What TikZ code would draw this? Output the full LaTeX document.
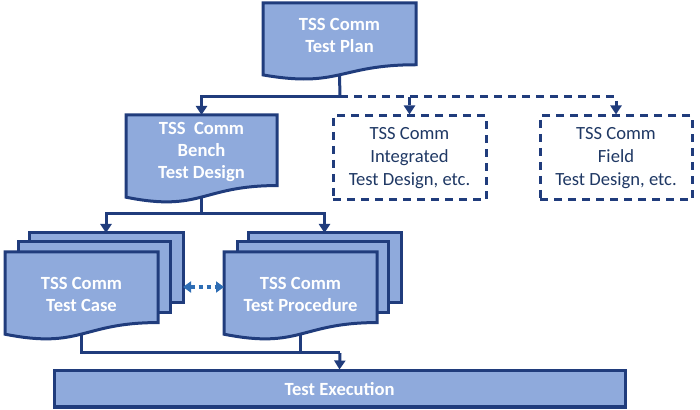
\documentclass[tikz,border=0pt]{standalone}
\usepackage{fontspec}
\setmainfont{Carlito}
\usepackage{xcolor}
\usepackage{tikz}
\usetikzlibrary{arrows.meta, positioning, calc}

\definecolor{sheetfill}{HTML}{8FAADC}
\definecolor{sheetline}{HTML}{203C7C}
\definecolor{navytext}{HTML}{1F3864}
\definecolor{linkblue}{HTML}{2E6DB4}

% document sheet with wavy bottom: name, x1, y1, x2, height
\newcommand{\docsheet}[5]{%
  \draw[sheet] (#2,#3) -- (#4,#3) -- (#4,{#3+0.802*#5})
    .. controls ({(#2+#4)/2},{#3+0.802*#5}) and ({(#2+#4)/2},{#3+1.107*#5}) .. (#2,{#3+0.934*#5}) -- cycle;
  \coordinate (#1-n) at ({(#2+#4)/2},#3);
  \coordinate (#1-s) at ({(#2+#4)/2},{#3+0.933*#5});
  \coordinate (#1-c) at ({(#2+#4)/2},{#3+0.42*#5});
}

\begin{document}
\begin{tikzpicture}[x=0.5pt, y=-0.5pt, thick,
    sheet/.style={draw=sheetline, fill=sheetfill, line width=1.5pt},
    doctext/.style={text=white, font=\fontsize{9.3}{11}\selectfont\bfseries, align=center},
    dashbox/.style={draw=sheetline, dash pattern=on 4pt off 3pt, line width=1.5pt, minimum width=76.5pt, minimum height=42pt, align=center, text=navytext, font=\fontsize{9.3}{11.5}\selectfont},
    link/.style={draw=sheetline, line width=1.5pt, -{Triangle[length=4.5pt, width=5.5pt]}},
    dashlink/.style={link, dash pattern=on 4pt off 3pt}]
    \useasboundingbox (0,0) rectangle (700,410);

    % Plan and bench design
    \docsheet{plan}{263}{3}{416}{77}
    \node (plan) [doctext] at (plan-c) {TSS Comm\\Test Plan};
    \docsheet{bench}{126}{115}{277}{88}
    \node (bench) [doctext] at (bench-c) {TSS\ \ Comm\\Bench\\Test Design};

    % Other test designs (dashed)
    \node (integ) [dashbox] at (409.5,158) {TSS Comm\\Integrated\\Test Design, etc.};
    \node (field) [dashbox, minimum width=76pt] at (616,158) {TSS Comm\\Field\\Test Design, etc.};

    % Test case stack
    \draw[sheet] (29,233) rectangle (183,303);
    \draw[sheet] (18,242) rectangle (170,313);
    \docsheet{case}{5}{252}{158}{88}
    \node (case) [doctext] at (81.5,294) {TSS Comm\\Test Case};
    \coordinate (caseback-n) at (106,233);
    \coordinate (case-r) at (183,287);

    % Test procedure stack
    \draw[sheet] (248,233) rectangle (401,303);
    \draw[sheet] (237,242) rectangle (388,313);
    \docsheet{proc}{224}{252}{377}{88}
    \node (proc) [doctext] at (300.5,294) {TSS Comm\\Test Procedure};
    \coordinate (procback-n) at (324.5,233);
    \coordinate (proc-l) at (224,287);

    % Execution bar
    \node (exec) [sheet, doctext, minimum width=285.5pt, minimum height=18pt] at (339.5,389) {Test Execution};

    % Split points
    \coordinate (split1) at (340,97);
    \coordinate (split2) at (201.5,214);
    \coordinate (join) at (340,353);

    % Data flow
    \draw[sheetline, line width=1.5pt] (plan-s) -- (split1);
    \draw[link] (split1) -| (bench-n);
    \draw[dashlink] (split1) -| (integ.north);
    \draw[dashlink] (split1) -| (field.north);
    \draw[sheetline, line width=1.5pt] (bench-s) -- (split2);
    \draw[link] (split2) -| (caseback-n);
    \draw[link] (split2) -| (procback-n);
    \draw[linkblue, line width=1.8pt, dash pattern=on 2pt off 2pt, {Triangle[length=4pt, width=5.5pt]}-{Triangle[length=4pt, width=5.5pt]}] (case-r) -- (proc-l);
    \draw[sheetline, line width=1.5pt] (case-s) |- (join);
    \draw[sheetline, line width=1.5pt] (proc-s) |- (join);
    \draw[link] (join) -- (exec.north);
\end{tikzpicture}
\end{document}
